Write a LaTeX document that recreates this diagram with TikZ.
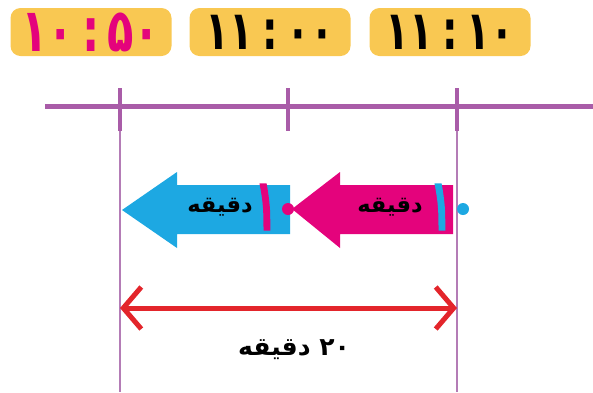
\documentclass[tikz,border=0pt]{standalone}
\usepackage{fontspec}
\newfontfamily\arabicfont[Script=Arabic]{DejaVu Sans}
\newfontfamily\timefont[Script=Arabic,FakeStretch=0.72]{DejaVu Sans}
\newfontfamily\onefont[Script=Arabic,FakeStretch=0.45,FakeBold=6]{DejaVu Sans}
\TeXXeTstate=1
\usetikzlibrary{arrows.meta}
\definecolor{timeyellow}{HTML}{F9C852}
\definecolor{linepurple}{HTML}{A95CA8}
\definecolor{thinpurple}{HTML}{B47CB6}
\definecolor{arrowmagenta}{HTML}{E4037C}
\definecolor{arrowblue}{HTML}{1DA8E2}
\definecolor{spanred}{HTML}{E3252B}
\begin{document}
\begin{tikzpicture}[x=1pt,y=-1pt,
	timebox/.style={fill=timeyellow,rounded corners=10pt,minimum width=161pt,minimum height=48pt,inner sep=0pt},
	bigdigit/.style={font=\onefont\fontsize{68}{68}\selectfont,inner sep=0pt},
	wordlabel/.style={font=\arabicfont\bfseries\fontsize{22.5}{22.5}\selectfont,inner sep=0pt}]

	\useasboundingbox (0,0) rectangle (593,392);

	% time boxes
	\node[timebox,text=arrowmagenta,font=\timefont\bfseries\fontsize{60}{60}\selectfont] (start) at (91,32) {\beginR\beginL۱۰\kern8pt:\kern8pt۵۰\endL\endR};
	\node[timebox,text=black,font=\timefont\bfseries\fontsize{54}{54}\selectfont] (middle) at (270,32) {\beginR\beginL۱۱\kern9pt:\kern9pt۰۰\endL\endR};
	\node[timebox,text=black,font=\timefont\bfseries\fontsize{54}{54}\selectfont] (stop) at (450,32) {\beginR\beginL۱۱\kern9pt:\kern9pt۱۰\endL\endR};

	% time line
	\draw[linepurple,line width=5pt] (45,106)--(593,106);
	\coordinate (t1) at (120,106);
	\coordinate (t2) at (288,106);
	\coordinate (t3) at (457,106);
	\foreach \t in {t1,t2,t3}
		\draw[linepurple,line width=4.5pt] ([yshift=18pt]\t)--([yshift=-25pt]\t);

	% thin lines down
	\draw[thinpurple,line width=2pt] (120,131)--(120,392);
	\draw[thinpurple,line width=2pt] (457,131)--(457,392);

	% blue arrow
	\fill[arrowblue] (290,185)--(177,185)--(177,172)--(122,210)--(177,248)--(177,234)--(290,234)--cycle;
	\node[wordlabel] (bluetext) at (220,207) {\beginR دقیقه\endR};
	\node[text=arrowmagenta,bigdigit] (blueone) at (266,207) {۱};

	% magenta arrow
	\fill[arrowmagenta] (453,185)--(340,185)--(340,172)--(292,209)--(340,248)--(340,234)--(453,234)--cycle;
	\node[wordlabel] (magtext) at (390,207) {\beginR دقیقه\endR};
	\node[text=arrowblue,bigdigit] (magone) at (441,207) {۱};

	% dots
	\fill[arrowmagenta] (288,209) circle[radius=6pt];
	\fill[arrowblue] (463,209) circle[radius=6pt];

	% span arrow
	\coordinate (left) at (120,308);
	\coordinate (right) at (457,308);
	\draw[spanred,line width=5pt,{Straight Barb[length=18pt,width=42pt]}-{Straight Barb[length=18pt,width=42pt]}] (left)--(right);
	\node[wordlabel,font=\arabicfont\bfseries\fontsize{25}{25}\selectfont] (spantext) at (294,350) {\beginR ۲۰ دقیقه\endR};

\end{tikzpicture}
\end{document}
